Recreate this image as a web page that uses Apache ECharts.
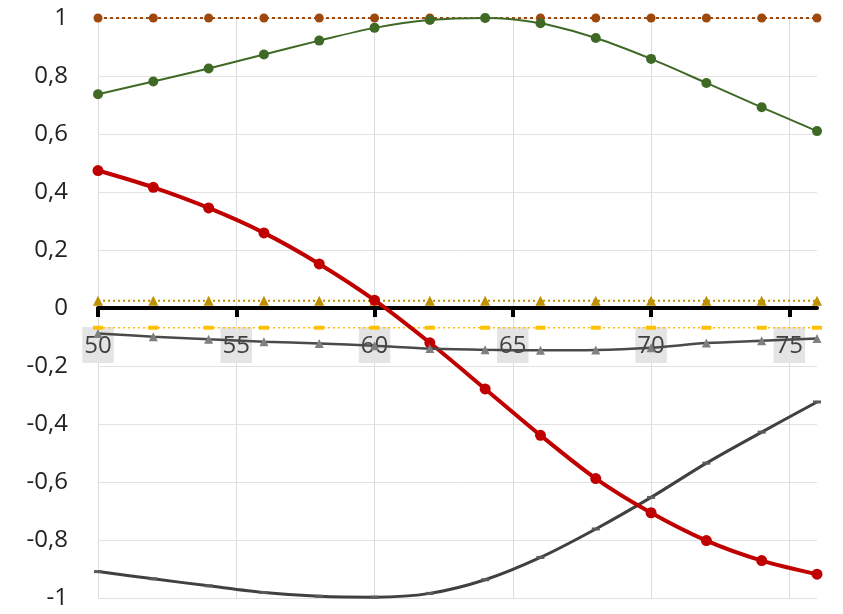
<!DOCTYPE html>
<html>
<head>
<meta charset="utf-8">
<script src="https://cdn.jsdelivr.net/npm/echarts@6/dist/echarts.min.js"></script>
<style>
  html, body { margin: 0; padding: 0; background: #fff; }
  #chart { width: 843px; height: 614px; }
</style>
</head>
<body>
<div id="chart"></div>
<script>
// x positions shared by all series
const xValues = [50, 52, 54, 56, 58, 60, 62, 64, 66, 68, 70, 72, 74, 76];

// series values
const brownDots   = [1, 1, 1, 1, 1, 1, 1, 1, 1, 1, 1, 1, 1, 1];
const greenCurve  = [0.737, 0.781, 0.826, 0.874, 0.922, 0.966, 0.993, 1.0, 0.982, 0.931, 0.859, 0.776, 0.692, 0.610];
const redCurve    = [0.474, 0.416, 0.345, 0.259, 0.152, 0.027, -0.12, -0.279, -0.439, -0.588, -0.706, -0.802, -0.871, -0.918];
const goldFlat    = [0.025, 0.025, 0.025, 0.025, 0.025, 0.025, 0.025, 0.025, 0.025, 0.025, 0.025, 0.025, 0.025, 0.025];
const yellowFlat  = [-0.068, -0.068, -0.068, -0.068, -0.068, -0.068, -0.068, -0.068, -0.068, -0.068, -0.068, -0.068, -0.068, -0.068];
const grayTri     = [-0.088, -0.099, -0.108, -0.116, -0.122, -0.13, -0.14, -0.144, -0.146, -0.145, -0.137, -0.121, -0.113, -0.105];
const darkCurve   = [-0.909, -0.934, -0.958, -0.981, -0.994, -0.997, -0.984, -0.937, -0.86, -0.762, -0.653, -0.535, -0.428, -0.324];

// axis ticks
const xTicks = [50, 55, 60, 65, 70, 75];
const yMin = -1, yMax = 1, yStep = 0.2;

const pairs = arr => xValues.map((x, i) => [x, arr[i]]);

const chart = echarts.init(document.getElementById('chart'), null, { renderer: 'canvas' });

const fontFamily = '"Open Sans", "Noto Sans", sans-serif';
const gridTop = 18, gridBottom = 16;
const plotHeight = 614 - gridTop - gridBottom;
// distance from the bottom edge of the plot up to the y = 0 line
const zeroOffset = -plotHeight * (0 - yMin) / (yMax - yMin);

chart.setOption({
  animation: false,
  backgroundColor: '#ffffff',
  grid: { left: 98, right: 26, top: gridTop, bottom: gridBottom, containLabel: false, outerBoundsMode: 'none' },
  xAxis: [
    {
      // data axis: grid lines only
      type: 'value',
      min: 50,
      max: 76,
      interval: 5,
      axisLine: { show: false, onZero: false },
      axisTick: { show: false },
      axisLabel: { show: false },
      splitLine: { show: true, showMaxLine: false, lineStyle: { color: '#dcdcdc', width: 1 } }
    },
    {
      // same scale, drawn along y = 0 with ticks and boxed labels
      type: 'value',
      min: 50,
      max: 76,
      interval: 5,
      position: 'bottom',
      offset: zeroOffset,
      axisLine: { show: true, onZero: false, lineStyle: { color: '#000', width: 4 } },
      axisTick: { show: true, length: 9, inside: false, customValues: xTicks, lineStyle: { color: '#000', width: 4 } },
      axisLabel: {
        customValues: xTicks,
        margin: 19,
        fontFamily: fontFamily,
        fontSize: 24,
        color: '#404040',
        backgroundColor: '#e4e4e4',
        padding: [4, 2, 2, 2],
        lineHeight: 30
      },
      splitLine: { show: false }
    }
  ],
  yAxis: {
    type: 'value',
    min: yMin,
    max: yMax,
    interval: yStep,
    axisLine: { show: false },
    axisTick: { show: false },
    axisLabel: {
      margin: 30,
      fontFamily: fontFamily,
      fontSize: 24,
      color: '#222',
      formatter: v => String(Math.round(v * 10) / 10).replace('.', ',')
    },
    splitLine: { show: true, lineStyle: { color: '#e2e2e2', width: 1 } }
  },
  series: [
    {
      type: 'line', data: pairs(brownDots), z: 3,
      symbol: 'circle', symbolSize: 9,
      itemStyle: { color: '#9e480e' },
      lineStyle: { color: '#9e480e', width: 2, type: [3, 3] }
    },
    {
      type: 'line', data: pairs(greenCurve), z: 3, smooth: 0.3,
      symbol: 'circle', symbolSize: 10,
      itemStyle: { color: '#3f6a26' },
      lineStyle: { color: '#3f6a26', width: 2 }
    },
    {
      type: 'line', data: pairs(goldFlat), z: 3,
      symbol: 'triangle', symbolSize: 10,
      itemStyle: { color: '#bf9000' },
      lineStyle: { color: '#bf9000', width: 2, type: [2, 3] }
    },
    {
      type: 'line', data: pairs(yellowFlat), z: 3,
      symbol: 'rect', symbolSize: [10, 4],
      itemStyle: { color: '#ffc000' },
      lineStyle: { color: '#ffc000', width: 1.5, type: [2, 3] }
    },
    {
      type: 'line', data: pairs(darkCurve), z: 3, smooth: 0.3,
      symbol: 'rect', symbolSize: [8, 3],
      itemStyle: { color: '#5a5a5a' },
      lineStyle: { color: '#404040', width: 3 }
    },
    {
      type: 'line', data: pairs(redCurve), z: 4, smooth: 0.3,
      symbol: 'circle', symbolSize: 11,
      itemStyle: { color: '#c00000' },
      lineStyle: { color: '#c00000', width: 4 }
    },
    {
      type: 'line', data: pairs(grayTri), z: 5, smooth: 0.3,
      symbol: 'triangle', symbolSize: 9,
      itemStyle: { color: '#7f7f7f' },
      lineStyle: { color: '#4a4a4a', width: 2.5 }
    }
  ]
});
</script>
</body>
</html>
